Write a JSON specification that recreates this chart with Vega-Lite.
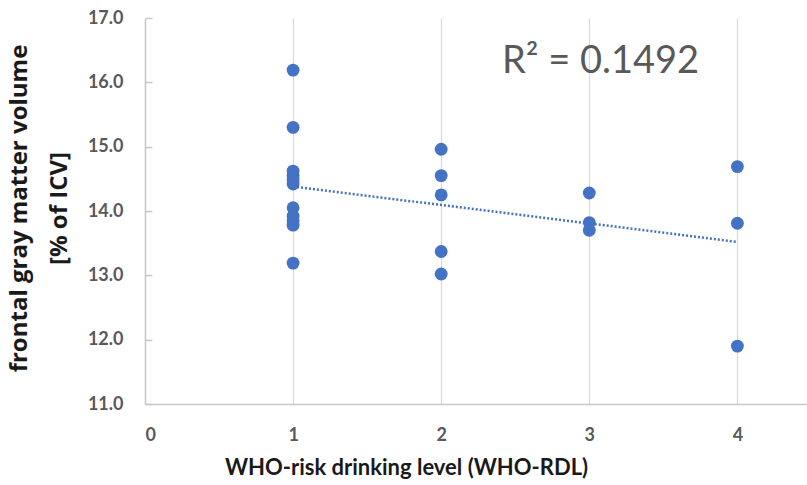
{
  "$schema": "https://vega.github.io/schema/vega-lite/v6.json",
  "width": 662,
  "height": 386,
  "autosize": {"type": "none"},
  "padding": {"left": 145, "top": 18, "right": 0, "bottom": 81},
  "background": "white",
  "config": {"view": {"stroke": null}, "font": "Lato"},
  "layer": [
    {
      "data": {"values": [
        {"level": 1, "volume": 14.38},
        {"level": 4, "volume": 13.52}
      ]},
      "mark": {"type": "line", "color": "#4472C4", "strokeDash": [2, 2], "strokeWidth": 2.5},
      "encoding": {
        "x": {
          "field": "level",
          "type": "quantitative",
          "scale": {"domain": [0, 4.47], "nice": false, "zero": false},
          "axis": {
            "values": [0, 1, 2, 3, 4],
            "format": "d",
            "grid": true,
            "gridColor": "#d9d9d9",
            "gridWidth": 1.2,
            "domainColor": "#c8c8c8",
            "domainWidth": 1.5,
            "ticks": false,
            "labelPadding": 22,
            "labelFont": "Lato",
            "labelFontWeight": "bold",
            "labelFontSize": 18,
            "labelColor": "#595959",
            "title": "WHO-risk drinking level (WHO-RDL)",
            "titleFont": "Lato",
            "titleFontSize": 22,
            "titleFontWeight": "bold",
            "titleColor": "#1a1a1a",
            "titleX": 261,
            "titleY": 70,
            "titleBaseline": "alphabetic",
            "titleAlign": "center"
          }
        },
        "y": {
          "field": "volume",
          "type": "quantitative",
          "scale": {"domain": [11, 17], "nice": false, "zero": false},
          "axis": {
            "values": [11, 12, 13, 14, 15, 16, 17],
            "format": ".1f",
            "grid": false,
            "domainColor": "#c8c8c8",
            "domainWidth": 1.5,
            "tickColor": "#c8c8c8",
            "tickWidth": 1.5,
            "tickSize": -7,
            "labelPadding": 29,
            "labelFont": "Lato",
            "labelFontWeight": "bold",
            "labelFontSize": 18,
            "labelColor": "#595959",
            "title": ["frontal gray matter volume", "[% of ICV]"],
            "titleFont": "Open Sans",
            "titleFontSize": 24,
            "titleFontWeight": "bold",
            "titleColor": "#1a1a1a",
            "titleX": -138,
            "titleY": 190,
            "titleAngle": -90,
            "titleBaseline": "top",
            "titleAlign": "center",
            "titleLineHeight": 40
          }
        }
      }
    },
    {
      "data": {"values": [
        {"level": 1, "volume": 16.19},
        {"level": 1, "volume": 15.30},
        {"level": 1, "volume": 14.62},
        {"level": 1, "volume": 14.55},
        {"level": 1, "volume": 14.48},
        {"level": 1, "volume": 14.42},
        {"level": 1, "volume": 14.05},
        {"level": 1, "volume": 13.92},
        {"level": 1, "volume": 13.85},
        {"level": 1, "volume": 13.78},
        {"level": 1, "volume": 13.19},
        {"level": 2, "volume": 14.96},
        {"level": 2, "volume": 14.55},
        {"level": 2, "volume": 14.25},
        {"level": 2, "volume": 13.37},
        {"level": 2, "volume": 13.02},
        {"level": 3, "volume": 14.28},
        {"level": 3, "volume": 13.82},
        {"level": 3, "volume": 13.70},
        {"level": 4, "volume": 14.69},
        {"level": 4, "volume": 13.81},
        {"level": 4, "volume": 11.90}
      ]},
      "mark": {"type": "circle", "size": 165, "color": "#4472C4", "opacity": 1},
      "encoding": {
        "x": {"field": "level", "type": "quantitative"},
        "y": {"field": "volume", "type": "quantitative"}
      }
    },
    {
      "data": {"values": [{"label": "R² = 0.1492"}]},
      "mark": {"type": "text", "font": "Lato", "fontSize": 38, "color": "#595959", "align": "left", "baseline": "alphabetic"},
      "encoding": {
        "x": {"datum": 2.41, "type": "quantitative"},
        "y": {"datum": 16.15, "type": "quantitative"},
        "text": {"field": "label", "type": "nominal"}
      }
    }
  ]
}
